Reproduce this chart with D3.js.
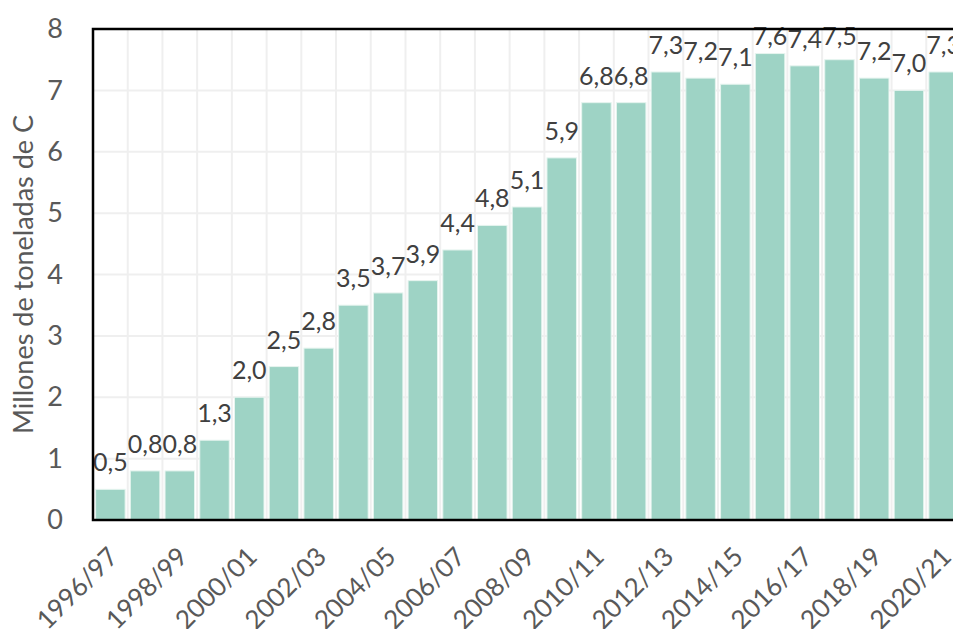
<!DOCTYPE html>
<html>
<head>
<meta charset="utf-8">
<script src="https://cdn.jsdelivr.net/npm/d3@7"></script>
<style>
	body { margin: 0; background: #fff; }
	svg { display: block; }
	text { font-family: Lato, "Open Sans", sans-serif; }
</style>
</head>
<body>
<div id="chart"></div>
<script>
const campaigns = [
	"1996/97", "1997/98", "1998/99", "1999/00", "2000/01", "2001/02", "2002/03",
	"2003/04", "2004/05", "2005/06", "2006/07", "2007/08", "2008/09", "2009/10",
	"2010/11", "2011/12", "2012/13", "2013/14", "2014/15", "2015/16", "2016/17",
	"2017/18", "2018/19", "2019/20", "2020/21"
];
const carbon = [
	0.5, 0.8, 0.8, 1.3, 2.0, 2.5, 2.8, 3.5, 3.7, 3.9, 4.4, 4.8, 5.1, 5.9,
	6.8, 6.8, 7.3, 7.2, 7.1, 7.6, 7.4, 7.5, 7.2, 7.0, 7.3
];
const yTicks = [0, 1, 2, 3, 4, 5, 6, 7, 8];
const xTickLabels = campaigns.filter((d, i) => i % 2 === 0);
const yTitle = "Millones de toneladas de C";

const w = 953;
const h = 629;
const margin = { top: 29, left: 93, bottom: 109 };
const plotW = 868;
const plotH = h - margin.top - margin.bottom;

const fmt = (v) => v.toFixed(1).replace(".", ",");

const svg = d3
	.select("#chart")
	.append("svg")
	.attr("width", w)
	.attr("height", h);

const xScale = d3
	.scaleBand()
	.domain(campaigns)
	.range([margin.left, margin.left + plotW])
	.paddingInner(0.15)
	.paddingOuter(0.075);
const yScale = d3
	.scaleLinear()
	.domain([0, 8])
	.range([margin.top + plotH, margin.top]);

// grid
const grid = svg.append("g").attr("class", "grid");
grid
	.selectAll("line.h")
	.data(yTicks)
	.enter()
	.append("line")
	.attr("class", "h")
	.attr("x1", margin.left)
	.attr("x2", margin.left + plotW)
	.attr("y1", (d) => yScale(d))
	.attr("y2", (d) => yScale(d))
	.attr("stroke", "#efefef")
	.attr("stroke-width", 2);
grid
	.selectAll("line.v")
	.data(campaigns.slice(1))
	.enter()
	.append("line")
	.attr("class", "v")
	.attr("x1", (d) => xScale(d) - xScale.step() * 0.075)
	.attr("x2", (d) => xScale(d) - xScale.step() * 0.075)
	.attr("y1", margin.top)
	.attr("y2", margin.top + plotH)
	.attr("stroke", "#efefef")
	.attr("stroke-width", 2);

// bars
svg
	.selectAll("rect.bar")
	.data(carbon)
	.enter()
	.append("rect")
	.attr("class", "bar")
	.attr("x", (d, i) => xScale(campaigns[i]))
	.attr("y", (d) => yScale(d))
	.attr("width", xScale.bandwidth())
	.attr("height", (d) => yScale(0) - yScale(d))
	.attr("fill", "#9ed3c5")
	.attr("stroke", "#e6f4ef")
	.attr("stroke-width", 1);

// value labels (the tallest one is pushed down to stay inside the chart)
svg
	.selectAll("text.val")
	.data(carbon)
	.enter()
	.append("text")
	.attr("class", "val")
	.attr("x", (d, i) => xScale(campaigns[i]) + xScale.bandwidth() / 2)
	.attr("y", (d) => Math.max(yScale(d) - 18, 45))
	.attr("text-anchor", "middle")
	.attr("font-size", 25)
	.attr("fill", "#404040")
	.text((d) => fmt(d));

// frame
svg
	.append("rect")
	.attr("x", margin.left)
	.attr("y", margin.top)
	.attr("width", plotW)
	.attr("height", plotH)
	.attr("fill", "none")
	.attr("stroke", "#000")
	.attr("stroke-width", 2.5);

// y axis
const yAxis = d3.axisLeft(yScale).tickValues(yTicks).tickSize(0).tickPadding(30);
const yG = svg
	.append("g")
	.attr("transform", "translate(" + margin.left + ",0)")
	.call(yAxis);
yG.select(".domain").remove();
yG.selectAll("text")
	.attr("font-size", 27)
	.attr("fill", "#595959")
	.style("font-family", "Lato, sans-serif");

// x axis
const xAxis = d3.axisBottom(xScale).tickValues(xTickLabels).tickSize(0);
const xG = svg
	.append("g")
	.attr("transform", "translate(0," + (margin.top + plotH) + ")")
	.call(xAxis);
xG.select(".domain").remove();
xG.selectAll("text")
	.attr("font-size", 26)
	.attr("fill", "#595959")
	.style("font-family", "Lato, sans-serif")
	.attr("text-anchor", "end")
	.attr("x", -5)
	.attr("y", 0)
	.attr("dy", "0.7em")
	.attr("transform", "translate(0,22) rotate(-45)");

// y title
svg
	.append("text")
	.attr("transform", "translate(33," + (margin.top + plotH / 2) + ") rotate(-90)")
	.attr("text-anchor", "middle")
	.attr("font-size", 27)
	.attr("fill", "#595959")
	.text(yTitle);
</script>
</body>
</html>
